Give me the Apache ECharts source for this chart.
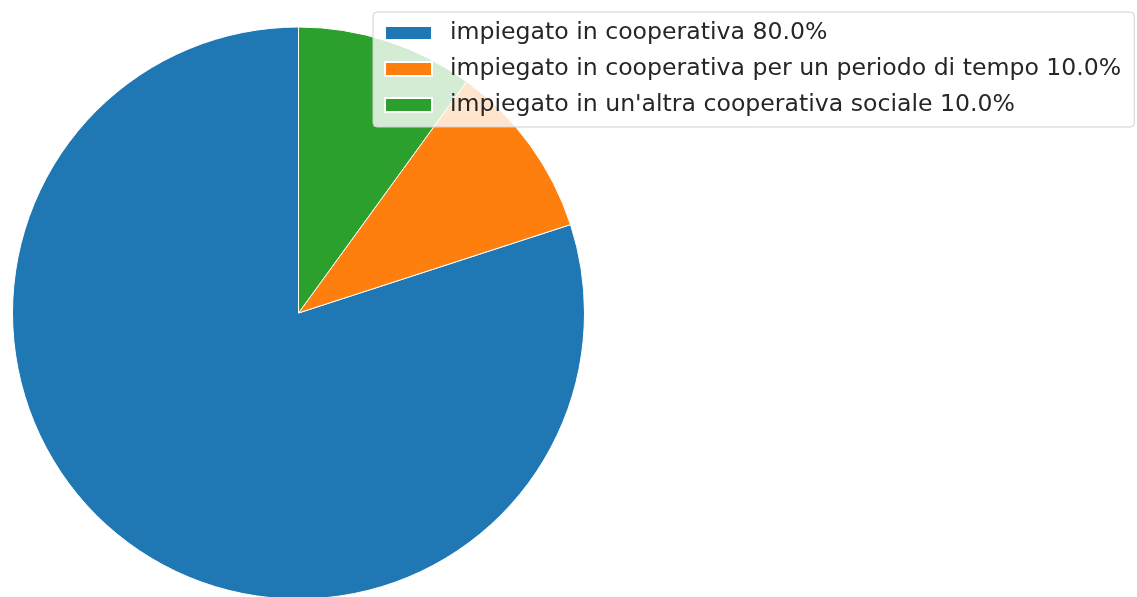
<!DOCTYPE html>
<html>
<head>
<meta charset="utf-8">
<script src="https://cdn.jsdelivr.net/npm/echarts@6/dist/echarts.min.js"></script>
<style>
  html, body { margin: 0; padding: 0; background: #fff; }
  #chart { width: 1137px; height: 597px; }
</style>
</head>
<body>
<div id="chart"></div>
<script>
const categories = [
  'impiegato in cooperativa',
  'impiegato in cooperativa per un periodo di tempo',
  "impiegato in un'altra cooperativa sociale"
]
const shares = [80.0, 10.0, 10.0]
const colors = ['#1f77b4', '#ff7f0e', '#2ca02c']

const chart = echarts.init(document.getElementById('chart'))
chart.setOption({
  animation: false,
  legend: {
    left: 373,
    top: 12,
    orient: 'vertical',
    padding: [9, 13, 10, 11],
    itemWidth: 47,
    itemHeight: 14,
    itemGap: 12,
    icon: 'rect',
    backgroundColor: 'rgba(255,255,255,0.8)',
    borderColor: '#d0d0d0',
    borderWidth: 1,
    borderRadius: 4,
    textStyle: {
      fontFamily: 'DejaVu Sans',
      fontSize: 23.6,
      lineHeight: 22,
      color: '#262626',
      padding: [0, 0, 0, 13],
    },
    formatter: name => {
      const i = categories.indexOf(name)
      return name + ' ' + shares[i].toFixed(1) + '%'
    },
  },
  series: [{
    type: 'pie',
    center: [298.5, 313],
    radius: 286,
    startAngle: 90,
    clockwise: false,
    label: { show: false },
    labelLine: { show: false },
    itemStyle: { borderColor: '#fff', borderWidth: 1 },
    emphasis: { disabled: true },
    data: categories.map((name, i) => ({
      name,
      value: shares[i],
      itemStyle: { color: colors[i] },
    })),
  }],
})
</script>
</body>
</html>
